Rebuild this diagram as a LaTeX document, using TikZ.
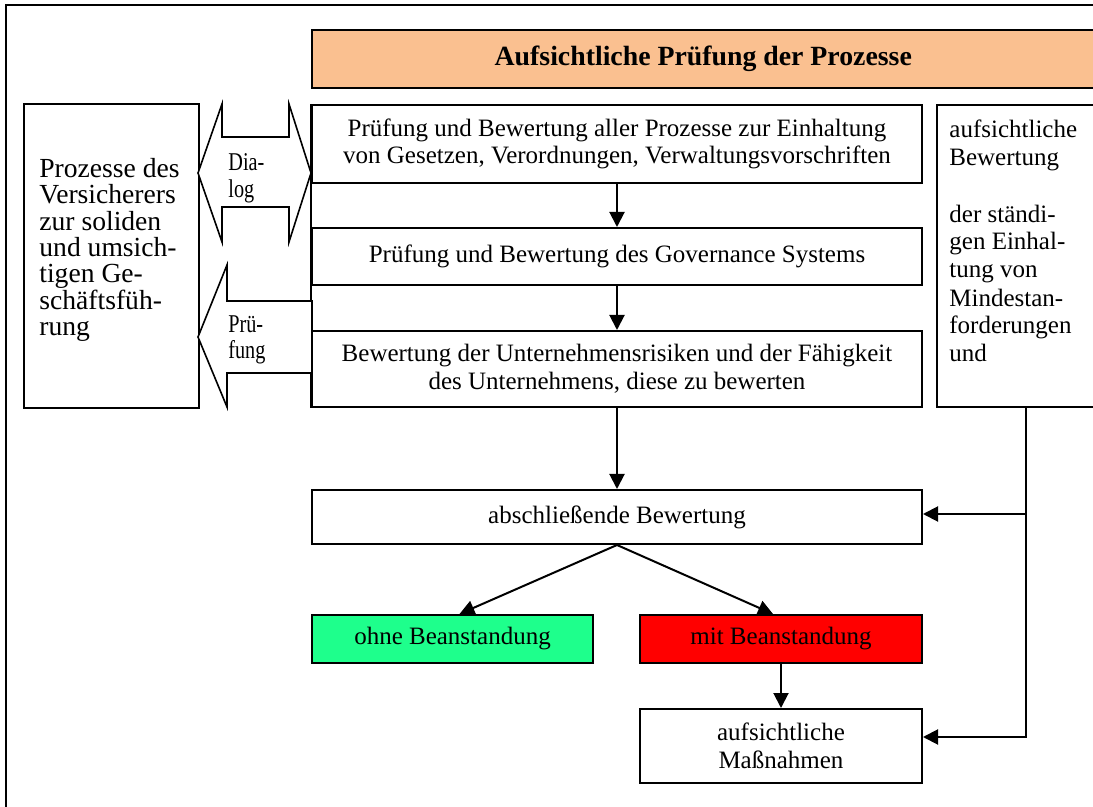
\documentclass[tikz,border=0pt]{standalone}
\usepackage{fontspec}
\setmainfont{Liberation Serif}
\newfontfamily\narrowserif{Liberation Serif}[FakeStretch=0.79]
\usetikzlibrary{fit,arrows.meta,calc}
\definecolor{titlefill}{RGB}{250,192,144}
\definecolor{okgreen}{RGB}{30,255,140}
\definecolor{badred}{RGB}{255,0,0}
\tikzset{
  box/.style={draw=black, line width=1pt, inner sep=0pt},
  boxtext/.style={inner sep=0pt, align=center, anchor=center,
    font=\fontsize{12.5}{13.8}\selectfont},
  conn/.style={line width=1pt, line join=miter, -{Triangle[length=7.5pt,width=7.5pt]}},
  plainline/.style={line width=1pt},
  bigarrow/.style={draw=black, line width=0.8pt, fill=white, line join=miter},
  plaintext/.style={inner sep=0pt, align=left, anchor=north west},
}
\begin{document}
\begin{tikzpicture}[x=0.5pt,y=-0.5pt]
\useasboundingbox (0,0) rectangle (1093,807);
\clip (0,0) rectangle (1093,807);
% outer frame (cut by the page edge)
\draw[plainline] (6,830) -- (6,5) -- (1120,5);
% title
\node[box, fill=titlefill, fit={(312,30)(1094.5,88)}] (title) {};
\node[boxtext, font=\fontsize{13.9}{15}\selectfont\bfseries] (titletext) at (title.center) {Aufsichtliche Prüfung der Prozesse};
% central column
\node[box, fit={(312,105)(922,183)}] (b1) {};
\node[boxtext] (b1text) at (b1.center) {Prüfung und Bewertung aller Prozesse zur Einhaltung\\von Gesetzen, Verordnungen, Verwaltungsvorschriften};
\node[box, fit={(312,228)(922,285)}] (b2) {};
\node[boxtext] (b2text) at (b2.center) {Prüfung und Bewertung des Governance Systems};
\node[box, fit={(312,331)(922,407)}] (b3) {};
\node[boxtext] (b3text) at (b3.center) {Bewertung der Unternehmensrisiken und der Fähigkeit\\des Unternehmens, diese zu bewerten};
\draw[plainline] (b1.north west) -- (b3.south west);
% left box
\node[box, fit={(24,104)(199,408)}] (left) {};
\node[plaintext, font=\fontsize{13.8}{13.15}\selectfont] (lefttext) at (39,158)
  {Prozesse des\\Versicherers\\zur soliden\\und umsich-\\tigen Ge-\\schäftsfüh-\\rung};
% right box
\node[box, fit={(937,105)(1094.5,407)}] (rb) {};
\node[plaintext, font=\fontsize{12.5}{14}\selectfont] (rbtext) at (949,120)
  {aufsichtliche\\Bewertung\\[14pt]der ständi-\\gen Einhal-\\tung von\\Mindestan-\\forderungen\\und};
% big block arrows
\draw[bigarrow] (198,173) -- (222,104) -- (222,137) -- (289,137) -- (289,104) -- (311,173)
  -- (289,242) -- (289,207) -- (222,207) -- (222,242) -- cycle;
\node[plaintext, font=\narrowserif\fontsize{12.8}{13.5}\selectfont] (dialog) at (228,153) {Dia-\\log};
\draw[bigarrow] (198,337) -- (227,265) -- (227,301) -- (312,301) -- (312,373) -- (227,373)
  -- (227,407) -- cycle;
\node[plaintext, font=\narrowserif\fontsize{12.8}{13}\selectfont] (pruef) at (228,315) {Prü-\\fung};
% lower part
\node[box, fit={(312,490)(922,544)}] (abs) {};
\node[boxtext] (abstext) at (abs.center) {abschließende Bewertung};
\node[box, fill=okgreen, fit={(312,615)(593,663)}] (green) {};
\node[boxtext] (greentext) at (green.center) {ohne Beanstandung};
\node[box, fill=badred, fit={(640,615)(922,663)}] (red) {};
\node[boxtext] (redtext) at (red.center) {mit Beanstandung};
\node[box, fit={(640,709)(922,783)}] (mass) {};
\node[boxtext] (masstext) at (mass.center) {aufsichtliche\\Maßnahmen};
% connectors
\draw[conn] (b1.south) -- (b2.north);
\draw[conn] (b2.south) -- (b3.north);
\draw[conn] (b3.south) -- (abs.north);
\draw[conn] (abs.south) -- ([xshift=3.5pt]green.north);
\draw[conn] (abs.south) -- ([xshift=-4pt]red.north);
\draw[conn] (red.south) -- (mass.north);
\coordinate (j1) at (1026,514);
\coordinate (j2) at (1026,737);
\draw[conn] (rb.south -| j2) -- (j2) -- (mass.east |- j2);
\draw[conn] (j1) -- (abs.east |- j1);
\end{tikzpicture}
\end{document}
